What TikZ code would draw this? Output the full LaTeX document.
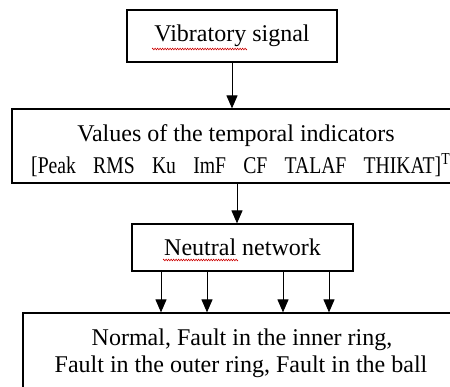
\documentclass[tikz,border=0pt]{standalone}
\usepackage{fontspec}
\usepackage{graphicx}
\setmainfont{Liberation Serif}
\usetikzlibrary{arrows.meta,decorations.pathmorphing,calc}
\newcommand{\wgap}{\hspace{21pt}}
\begin{document}
\begin{tikzpicture}[x=1pt,y=-1pt,
  box/.style={draw,line width=1.2pt,inner sep=0pt,font=\fontsize{24}{30}\selectfont},
  txt/.style={inner sep=0pt,anchor=base,font=\fontsize{24}{30}\selectfont},
  arr/.style={line width=1pt,-{Triangle[length=13pt,width=11pt]}},
  squig/.style={red!80!black,line width=0.6pt,decorate,decoration={zigzag,amplitude=0.8pt,segment length=2.5pt}}]
\useasboundingbox (0,0) rectangle (450,387);
\clip (0,0) rectangle (450,387);
% boxes
\node[box,minimum width=210pt,minimum height=52pt] (b1) at (232,36) {Vibratory signal};
\node[box,minimum width=458pt,minimum height=74pt] (b2) at (241,146) {};
\node[txt] (t2a) at (236,142) {Values of the temporal indicators};
\node[txt,anchor=base west] (t2b) at (31,174) {\scalebox{0.82}[1]{{[}Peak\wgap RMS\wgap Ku\wgap ImF\wgap CF\wgap TALAF\wgap THIKAT{]}\textsuperscript{T}}};
\node[box,minimum width=221pt,minimum height=47pt] (b3) at (242.5,247.5) {Neutral network};
\node[box,minimum width=436pt,minimum height=82pt] (b4) at (241,354) {};
\node[txt] (t4a) at (242,346) {Normal, Fault in the inner ring,};
\node[txt] (t4b) at (241,373) {Fault in the outer ring, Fault in the ball};
% connectors
\draw[arr] (b1.south) -- (b1.south |- b2.north);
\draw[arr] ([xshift=-5.5pt]b3.north |- b2.south) -- ([xshift=-5.5pt]b3.north);
\foreach \dx in {-81.5,-35.5,40.5,86.5}
  \draw[arr] ([xshift=\dx pt]b3.south) -- ([xshift=\dx pt]b3.south |- b4.north);
% spell-check marks
\draw[squig] (152,49) -- (247,49);
\draw[squig] (163,260) -- (238,260);
\end{tikzpicture}
\end{document}
